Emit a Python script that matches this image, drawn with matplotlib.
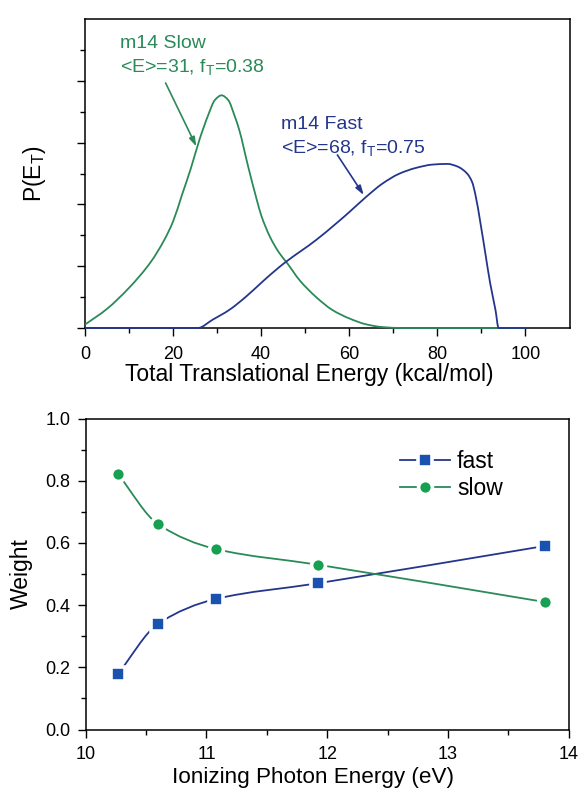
import numpy as np
import matplotlib
matplotlib.use('Agg')
import matplotlib.pyplot as plt
from matplotlib.path import Path
from matplotlib.patches import PathPatch
from matplotlib.lines import Line2D

plt.rcParams['font.family'] = ['Liberation Sans', 'DejaVu Sans']
plt.rcParams['mathtext.fontset'] = 'custom'
plt.rcParams['mathtext.rm'] = 'Liberation Sans'
plt.rcParams['mathtext.it'] = 'Liberation Sans:italic'

# top panel: P(E_T) curves
slow_E = [0, 5, 10, 15, 18, 20, 22, 24, 26, 28, 29.5, 31, 32.5, 34, 35, 37, 39, 40,
          42, 44, 46, 48.7, 52.4, 56.2, 60, 63.8, 67.5, 72, 100]
slow_P = [0.11, 0.62, 1.3, 2.15, 2.85, 3.45, 4.3, 5.15, 6.1, 6.9, 7.38, 7.53, 7.38, 6.85,
          6.42, 5.25, 4.15, 3.65, 2.95, 2.45, 2.08, 1.55, 1.01, 0.58, 0.31, 0.12, 0.03, 0.0, 0.0]
fast_E = [0, 25.6, 29, 32.8, 36.6, 40.3, 44.1, 45.7, 52.4, 57, 60, 63.8, 67.5, 71.3,
          75.1, 79, 82.3, 84.5, 86.8, 87.9, 88.6, 89.8, 90.9, 92, 93.2, 93.9, 100]
fast_P = [0, 0, 0.27, 0.59, 1.02, 1.5, 1.97, 2.15, 2.84, 3.38, 3.75, 4.24, 4.67, 4.99,
          5.18, 5.29, 5.31, 5.23, 4.99, 4.72, 4.34, 3.38, 2.41, 1.44, 0.58, 0.0, 0.0]

# bottom panel: weights vs photon energy
photon = [10.27, 10.6, 11.08, 11.92, 13.8]
w_fast = [0.18, 0.34, 0.42, 0.47, 0.59]
w_slow = [0.82, 0.66, 0.58, 0.53, 0.41]

green = '#2a8a58'
blue = '#24368c'
green_m = '#17a052'
blue_m = '#1a52b0'


def smooth_path(x, y):
    # monotone cubic through the points, drawn as bezier segments
    x = np.asarray(x, float)
    y = np.asarray(y, float)
    h = np.diff(x)
    d = np.diff(y) / h
    m = np.zeros_like(x)
    m[0] = d[0]
    m[-1] = d[-1]
    for i in range(1, len(x) - 1):
        if d[i - 1] * d[i] <= 0:
            m[i] = 0
        else:
            w1 = 2 * h[i] + h[i - 1]
            w2 = h[i] + 2 * h[i - 1]
            m[i] = (w1 + w2) / (w1 / d[i - 1] + w2 / d[i])
    verts = [(x[0], y[0])]
    codes = [Path.MOVETO]
    for i in range(len(h)):
        verts += [(x[i] + h[i] / 3, y[i] + m[i] * h[i] / 3),
                  (x[i + 1] - h[i] / 3, y[i + 1] - m[i + 1] * h[i] / 3),
                  (x[i + 1], y[i + 1])]
        codes += [Path.CURVE4] * 3
    return Path(verts, codes)


fig = plt.figure(figsize=(5.79, 7.9), dpi=100)
W, H = 579, 790

def style(ax):
    for s in ax.spines.values():
        s.set_linewidth(1.1)
    ax.tick_params(which='both', direction='out', top=False, right=False, width=1.0)
    ax.tick_params(which='major', length=6, labelsize=13)
    ax.tick_params(which='minor', length=3.5)

# ---- top
ax1 = fig.add_axes([85 / W, 1 - 328 / H, 484.5 / W, 309 / H])
ax1.add_patch(PathPatch(smooth_path(slow_E, slow_P), fill=False, edgecolor=green, lw=1.3,
                        transform=ax1.transData, zorder=3, clip_on=False))
ax1.add_patch(PathPatch(smooth_path(fast_E, fast_P), fill=False, edgecolor=blue, lw=1.3,
                        transform=ax1.transData, zorder=3, clip_on=False))
ax1.set_xlim(0, 110)
ax1.set_ylim(0, 10)
ax1.set_xticks([0, 20, 40, 60, 80, 100])
ax1.set_xticks(np.arange(10, 110, 20), minor=True)
ax1.set_yticks([0, 2, 4, 6, 8])
ax1.set_yticks([1, 3, 5, 7, 9], minor=True)
ax1.set_yticklabels([])
style(ax1)
ax1.tick_params(axis='x', which='major', pad=7)
ax1.set_xlabel('Total Translational Energy (kcal/mol)', fontsize=16.5, labelpad=0)
ax1.xaxis.label.set_x(0.463)
ax1.set_ylabel(r'P(E$_\mathregular{T}$)', fontsize=16.5)
ax1.yaxis.set_label_coords(-0.076, 0.5)

ax1.text(7.9, 9.06, 'm14 Slow', color=green, fontsize=14)
ax1.text(7.9, 8.28, r'<E>=31, f$_\mathregular{T}$=0.38', color=green, fontsize=14)
ax1.text(44.5, 6.44, 'm14 Fast', color=blue, fontsize=14)
ax1.text(44.5, 5.66, r'<E>=68, f$_\mathregular{T}$=0.75', color=blue, fontsize=14)
ax1.annotate('', xy=(25.3, 5.87), xytext=(18.3, 7.93),
             arrowprops=dict(arrowstyle='-|>,head_length=0.55,head_width=0.17', color=green, lw=1.2,
                             shrinkA=0, shrinkB=0))
ax1.annotate('', xy=(63.3, 4.3), xytext=(57.3, 5.6),
             arrowprops=dict(arrowstyle='-|>,head_length=0.55,head_width=0.17', color=blue, lw=1.2,
                             shrinkA=0, shrinkB=0))

# ---- bottom
ax2 = fig.add_axes([85.7 / W, 1 - 729.5 / H, 483 / W, 311 / H])
ax2.add_patch(PathPatch(smooth_path(photon, w_fast), fill=False, edgecolor=blue, lw=1.3,
                        transform=ax2.transData))
ax2.add_patch(PathPatch(smooth_path(photon, w_slow), fill=False, edgecolor=green, lw=1.3,
                        transform=ax2.transData))
ax2.plot(photon, w_fast, ls='none', marker='s', ms=9.5, mfc=blue_m, mec='white', mew=2.6,
         zorder=3)
ax2.plot(photon, w_slow, ls='none', marker='o', ms=10, mfc=green_m, mec='white', mew=2.6,
         zorder=3)
ax2.set_xlim(10, 14)
ax2.set_ylim(0, 1)
ax2.set_xticks([10, 11, 12, 13, 14])
ax2.set_xticks([10.5, 11.5, 12.5, 13.5], minor=True)
ax2.set_yticks(np.arange(0, 1.01, 0.2))
ax2.set_yticks(np.arange(0.1, 1.0, 0.2), minor=True)
ax2.set_yticklabels(['0.0', '0.2', '0.4', '0.6', '0.8', '1.0'])
style(ax2)
ax2.tick_params(axis='x', which='major', pad=6)
ax2.tick_params(axis='y', which='major', pad=5)
ax2.set_xlabel('Ionizing Photon Energy (eV)', fontsize=16.2, labelpad=3)
ax2.xaxis.label.set_x(0.47)
ax2.set_ylabel('Weight', fontsize=16.5)
ax2.yaxis.set_label_coords(-0.109, 0.5)

handles = [Line2D([], [], color=blue, lw=1.3, marker='s', ms=9.5, mfc=blue_m, mec='white', mew=2.6),
           Line2D([], [], color=green, lw=1.3, marker='o', ms=10, mfc=green_m, mec='white', mew=2.6)]
ax2.legend(handles, ['fast', 'slow'], loc='upper left', bbox_to_anchor=(0.65, 0.90),
           frameon=False, fontsize=16.5, handlelength=2.2, handletextpad=0.3,
           borderpad=0, borderaxespad=0, labelspacing=0.2, numpoints=1)

fig.savefig('out.png', dpi=100)
